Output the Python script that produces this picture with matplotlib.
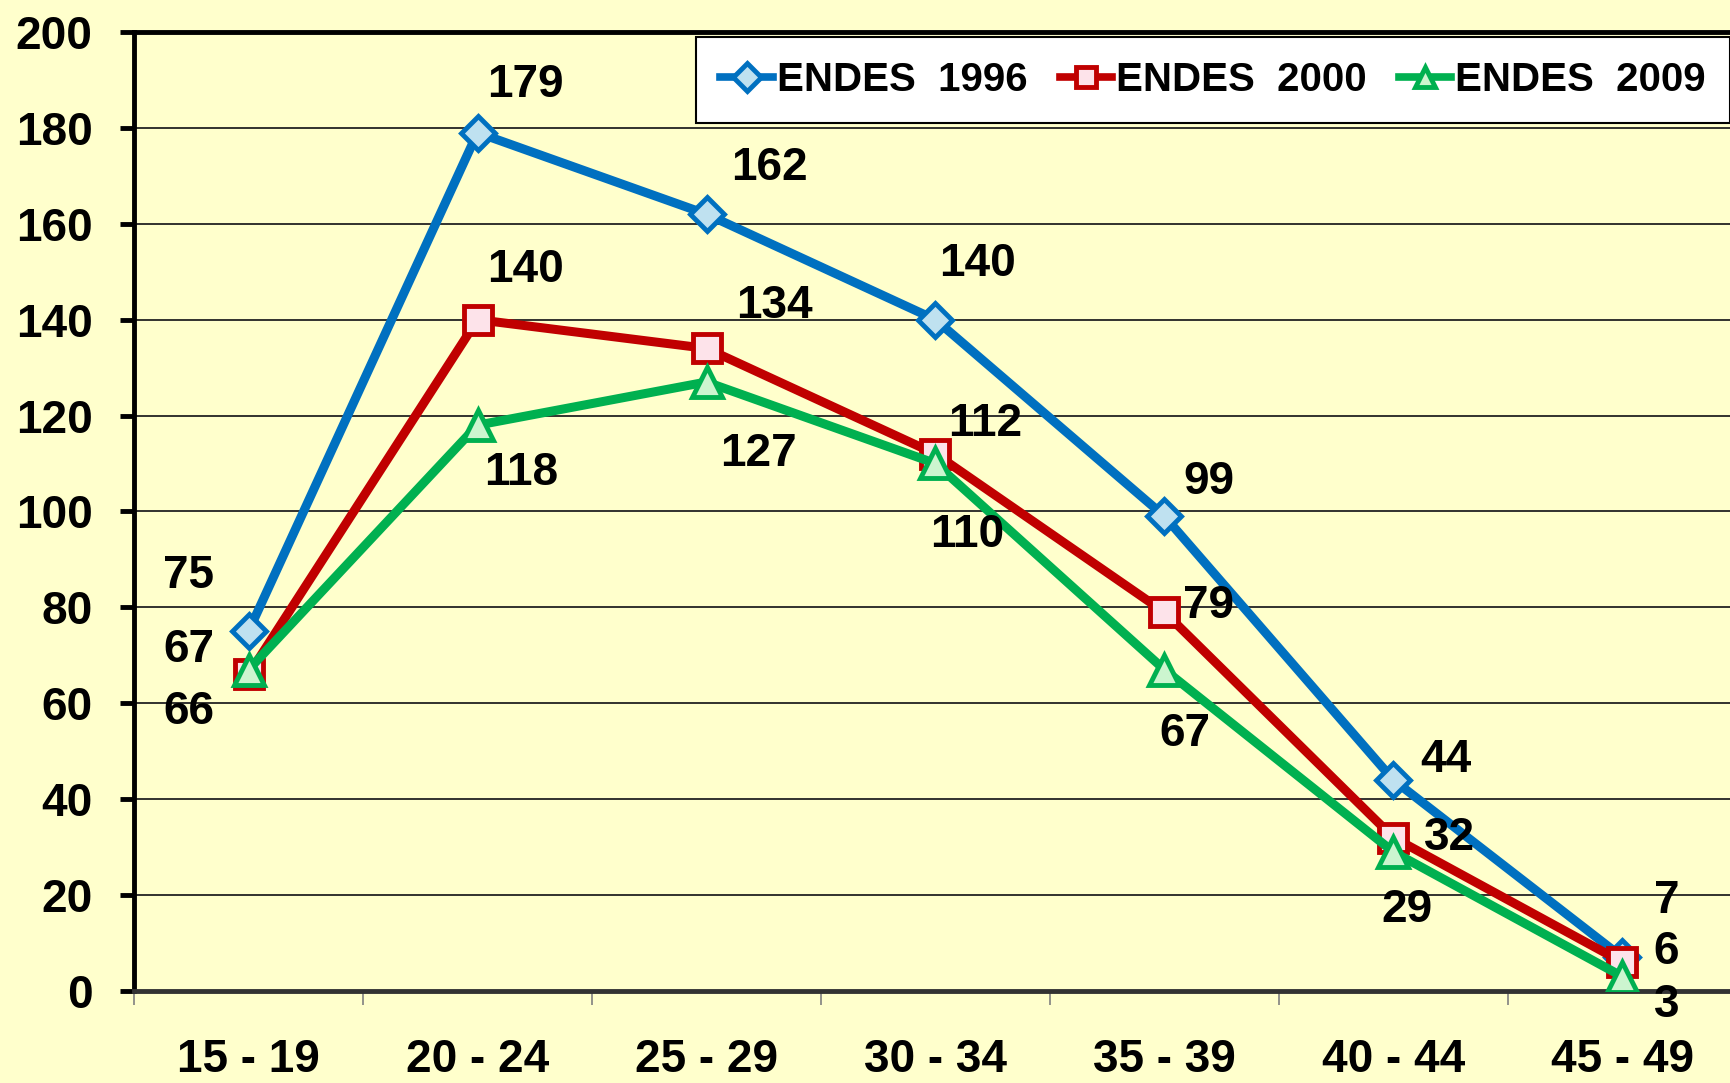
import numpy as np
import matplotlib.pyplot as plt
from matplotlib.ticker import MultipleLocator, FixedLocator

# datos
grupos = ['15 - 19', '20 - 24', '25 - 29', '30 - 34', '35 - 39', '40 - 44', '45 - 49']
endes_1996 = [75, 179, 162, 140, 99, 44, 7]
endes_2000 = [66, 140, 134, 112, 79, 32, 6]
endes_2009 = [67, 118, 127, 110, 67, 29, 3]
series_nombres = ['ENDES  1996', 'ENDES  2000', 'ENDES  2009']

# desplazamiento de etiquetas (pixeles)
off_1996 = [(-60, 55), (48, 48), (63, 46), (42, 56), (44, 34), (52, 20), (44, 56)]
off_2000 = [(-60, -38), (48, 50), (68, 42), (50, 30), (44, 6), (56, 0), (44, 10)]
off_2009 = [(-60, 20), (44, -48), (52, -72), (32, -72), (20, -64), (14, -58), (44, -28)]

plt.rcParams['font.family'] = ['Liberation Sans', 'DejaVu Sans']
plt.rcParams['font.weight'] = 'bold'

fondo = '#FFFFCC'
fig = plt.figure(figsize=(17.30, 10.83), dpi=100, facecolor=fondo)
ax = fig.add_axes([0.0775, 0.085, 0.9225, 0.8855])
ax.set_facecolor(fondo)

x = np.arange(len(grupos))
estilos = [
    ('#0070C0', '#BFE1F0', 'D', 17, endes_1996, off_1996),
    ('#C00000', '#FDE3EA', 's', 20, endes_2000, off_2000),
    ('#00B050', '#CCF5CF', '^', 21, endes_2009, off_2009),
]

for (col, cara, mk, ms, vals, offs), nombre in zip(estilos, series_nombres):
    ax.plot(x, vals, color=col, lw=6.5, marker=mk, markersize=ms,
            markerfacecolor=cara, markeredgecolor=col, markeredgewidth=3.5,
            label=nombre, zorder=3)
    for xi, v, (dx, dy) in zip(x, vals, offs):
        ax.annotate(str(v), (xi, v), xytext=(dx, dy), textcoords='offset pixels',
                    ha='center', va='center', fontsize=33, fontweight='bold',
                    color='black', zorder=4)

ax.set_ylim(0, 200)
ax.set_xlim(-0.5, 6.47)
ax.yaxis.set_major_locator(MultipleLocator(20))
ax.grid(axis='y', color='#222222', lw=1.3, zorder=1)
ax.set_axisbelow(True)

ax.set_xticks(x)
ax.set_xticklabels(grupos)
ax.xaxis.set_minor_locator(FixedLocator(np.arange(-0.5, 7, 1)))
ax.tick_params(axis='x', which='major', length=0, pad=34, labelsize=33)
ax.tick_params(axis='x', which='minor', length=10, width=1.2, color='#808080', direction='out')
ax.tick_params(axis='y', which='major', length=10, width=3.5, pad=20, labelsize=33, direction='out')

for lab in ax.get_xticklabels() + ax.get_yticklabels():
    lab.set_fontweight('bold')

ax.spines['left'].set_linewidth(3.5)
ax.spines['top'].set_linewidth(3.5)
ax.spines['bottom'].set_linewidth(3.5)
ax.spines['bottom'].set_color('#333333')
ax.spines['right'].set_visible(False)

leg = ax.legend(loc='upper right', bbox_to_anchor=(1.0, 0.966), bbox_transform=fig.transFigure,
                ncol=3, fontsize=29, frameon=True, fancybox=False, edgecolor='black',
                facecolor='white', framealpha=1, handlelength=1.3, handletextpad=0.1,
                columnspacing=0.8, borderpad=0.6, borderaxespad=0)
leg.get_frame().set_linewidth(1.5)
for t in leg.get_texts():
    t.set_fontweight('bold')
for h in leg.get_lines():
    h.set_markersize(14)
    h.set_linewidth(5.5)

fig.savefig('out.png', dpi=100, facecolor=fondo)
